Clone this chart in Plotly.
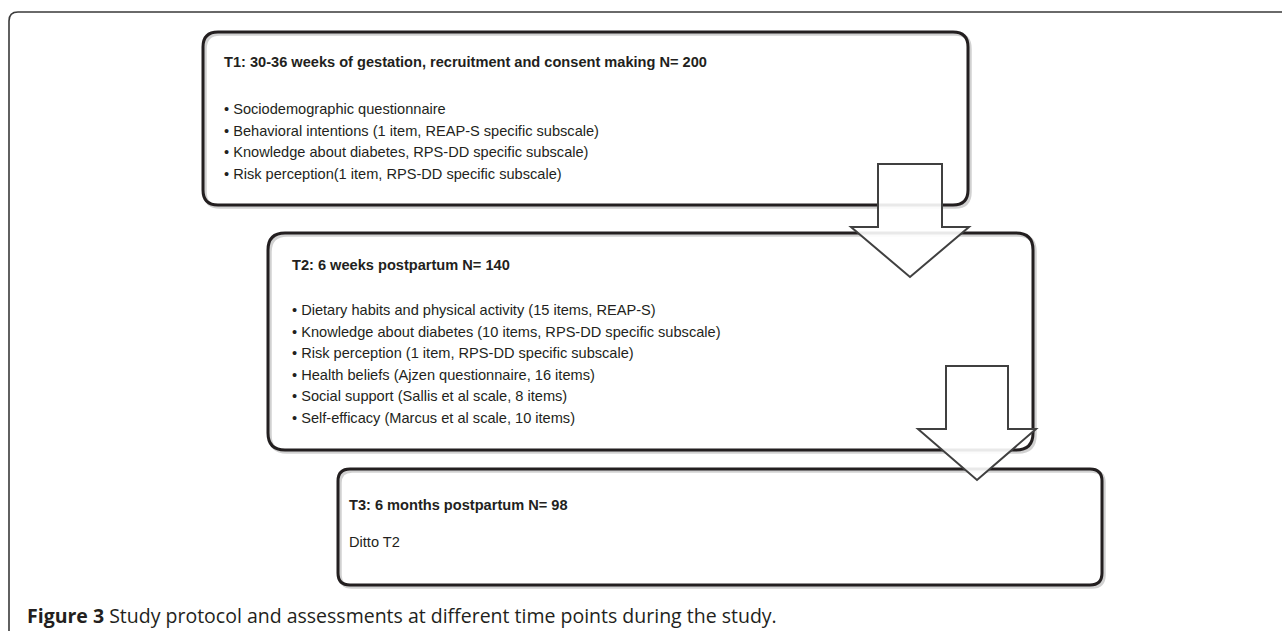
import plotly.graph_objects as go

W, H = 1282, 631

# ---- content (text) ----
t1_title = "T1: 30-36 weeks of gestation, recruitment and consent making N= 200"
t1_items = [
    "Sociodemographic questionnaire",
    "Behavioral intentions (1 item, REAP-S specific subscale)",
    "Knowledge about diabetes, RPS-DD specific subscale)",
    "Risk perception(1 item, RPS-DD specific subscale)",
]
t2_title = "T2: 6 weeks postpartum N= 140"
t2_items = [
    "Dietary habits and physical activity (15 items, REAP-S)",
    "Knowledge about diabetes (10 items, RPS-DD specific subscale)",
    "Risk perception (1 item, RPS-DD specific subscale)",
    "Health beliefs (Ajzen questionnaire, 16 items)",
    "Social support (Sallis et al scale, 8 items)",
    "Self-efficacy (Marcus et al scale, 10 items)",
]
t3_title = "T3: 6 months postpartum N= 98"
t3_items = ["Ditto T2"]
caption_bold = "Figure 3"
caption_rest = " Study protocol and assessments at different time points during the study."

# ---- layout geometry (pixels) ----
boxes = [
    dict(x0=203, y0=32, x1=968, y1=205, r=15, tx=222, ty=62, by=109, bullets=True, title=t1_title, items=t1_items),
    dict(x0=268, y0=233, x1=1033, y1=450, r=17, tx=290, ty=265, by=310, bullets=True, title=t2_title, items=t2_items),
    dict(x0=338, y0=469, x1=1102, y1=585, r=12, tx=347, ty=505, by=542, bullets=False, title=t3_title, items=t3_items),
]
line_gap = 21.6
arrows = [
    dict(cx=910, top=164, base=227, tip=277, shaft=32, head=59),
    dict(cx=977, top=366, base=429, tip=480, shaft=31, head=59),
]
INK = "#231f20"
FONT = "Arial, Liberation Sans, sans-serif"


def rrect(x0, y0, x1, y1, r):
    return (f"M {x0+r},{y0} L {x1-r},{y0} Q {x1},{y0} {x1},{y0+r} "
            f"L {x1},{y1-r} Q {x1},{y1} {x1-r},{y1} L {x0+r},{y1} "
            f"Q {x0},{y1} {x0},{y1-r} L {x0},{y0+r} Q {x0},{y0} {x0+r},{y0} Z")


shapes = []
annotations = []

# outer frame (open on right & bottom, beyond the canvas)
shapes.append(dict(type="path", xref="x", yref="y",
                   path="M 9,700 L 9,21 Q 9,12 18,12 L 1400,12",
                   line=dict(color="#3a3a3a", width=1.6)))

for b in boxes:
    # soft shadow
    shapes.append(dict(type="path", xref="x", yref="y",
                       path=rrect(b["x0"] + 2, b["y0"] + 2, b["x1"] + 2, b["y1"] + 2, b["r"]),
                       line=dict(color="rgba(0,0,0,0.18)", width=3.5)))
    shapes.append(dict(type="path", xref="x", yref="y",
                       path=rrect(b["x0"], b["y0"], b["x1"], b["y1"], b["r"]),
                       fillcolor="rgba(0,0,0,0)",
                       line=dict(color=INK, width=3)))
    annotations.append(dict(x=b["tx"], y=b["ty"], xref="x", yref="y", text=f"<b>{b['title']}</b>",
                            showarrow=False, xanchor="left", yanchor="middle",
                            font=dict(family=FONT, size=14.6, color=INK)))
    for i, it in enumerate(b["items"]):
        txt = ("\u2022 " + it) if b["bullets"] else it
        annotations.append(dict(x=b["tx"], y=b["by"] + i * line_gap, xref="x", yref="y", text=txt,
                                showarrow=False, xanchor="left", yanchor="middle",
                                font=dict(family=FONT, size=14.6, color=INK)))

for a in arrows:
    cx, s, h = a["cx"], a["shaft"], a["head"]
    p = (f"M {cx-s},{a['top']} L {cx+s},{a['top']} L {cx+s},{a['base']} L {cx+h},{a['base']} "
         f"L {cx},{a['tip']} L {cx-h},{a['base']} L {cx-s},{a['base']} Z")
    shapes.append(dict(type="path", xref="x", yref="y", path=p,
                       fillcolor="rgba(255,255,255,0.9)",
                       line=dict(color="#404040", width=2)))

annotations.append(dict(x=25, y=615, xref="x", yref="y",
                        text=f"<b>{caption_bold}</b>{caption_rest}",
                        showarrow=False, xanchor="left", yanchor="middle",
                        font=dict(family="Open Sans, Noto Sans, sans-serif", size=19.5, color=INK)))

fig = go.Figure()
fig.update_layout(
    width=W, height=H, margin=dict(l=0, r=0, t=0, b=0),
    paper_bgcolor="white", plot_bgcolor="white",
    xaxis=dict(range=[0, W], visible=False, fixedrange=True),
    yaxis=dict(range=[H, 0], visible=False, fixedrange=True),
    shapes=shapes, annotations=annotations, showlegend=False,
)
fig.write_html("out.html", config={"displayModeBar": False},
               post_script="document.body.style.margin='0';document.body.style.overflow='hidden';")
